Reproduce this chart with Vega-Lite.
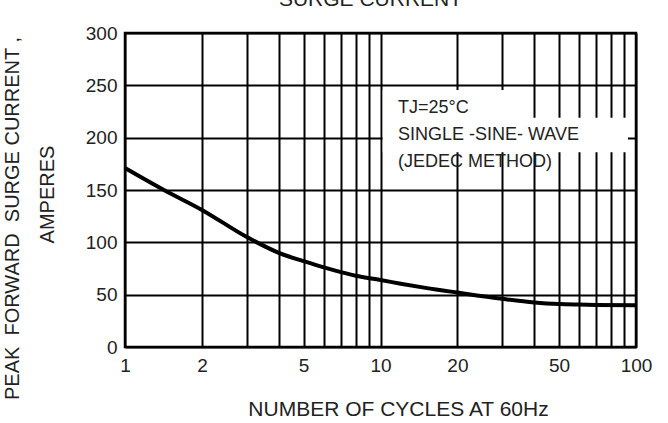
{
  "$schema": "https://vega.github.io/schema/vega-lite/v6.json",
  "width": 511,
  "height": 314,
  "autosize": {"type": "none"},
  "padding": {"left": 125, "top": 33, "right": 32, "bottom": 76},
  "background": "white",
  "title": {
    "text": "SURGE CURRENT",
    "font": "Liberation Sans",
    "fontSize": 21,
    "fontWeight": "normal",
    "color": "#222222",
    "anchor": "middle",
    "frame": "group",
    "baseline": "alphabetic",
    "offset": 6,
    "dx": -10,
    "dy": 9
  },
  "config": {
    "view": {"stroke": "black", "strokeWidth": 2.5},
    "font": "Liberation Sans"
  },
  "resolve": {"scale": {"y": "independent"}, "axis": {"y": "independent"}},
  "datasets": {
    "curve": [
      {"cycles": 1, "amps": 171},
      {"cycles": 1.42, "amps": 150},
      {"cycles": 2, "amps": 131},
      {"cycles": 3, "amps": 105},
      {"cycles": 4, "amps": 90},
      {"cycles": 5, "amps": 82},
      {"cycles": 6, "amps": 76},
      {"cycles": 7, "amps": 71.5},
      {"cycles": 8, "amps": 68},
      {"cycles": 10, "amps": 64},
      {"cycles": 12, "amps": 60.5},
      {"cycles": 15, "amps": 56.5},
      {"cycles": 20, "amps": 52},
      {"cycles": 30, "amps": 46},
      {"cycles": 40, "amps": 42.5},
      {"cycles": 50, "amps": 41},
      {"cycles": 60, "amps": 40.5},
      {"cycles": 70, "amps": 40.2},
      {"cycles": 100, "amps": 40}
    ],
    "notes": [
      {"line": 1, "label": "TJ=25°C", "amps": 228},
      {"line": 2, "label": "SINGLE -SINE- WAVE", "amps": 202.5},
      {"line": 3, "label": "(JEDEC METHOD)", "amps": 177}
    ]
  },
  "layer": [
    {
      "data": {"name": "curve"},
      "mark": {"type": "line", "color": "black", "strokeWidth": 4, "interpolate": "monotone"},
      "encoding": {
        "x": {
          "field": "cycles",
          "type": "quantitative",
          "scale": {"type": "log", "domain": [1, 100], "nice": false},
          "axis": {
            "values": [1, 2, 3, 4, 5, 6, 7, 8, 9, 10, 20, 30, 40, 50, 60, 70, 80, 90, 100],
            "labelExpr": "indexof([1,2,5,10,20,50,100], datum.value) >= 0 ? format(datum.value, 'd') : ''",
            "grid": true,
            "gridColor": "black",
            "gridWidth": 2,
            "gridOpacity": 1,
            "ticks": false,
            "domain": false,
            "labelFontSize": 19,
            "labelColor": "#222222",
            "labelPadding": 9,
            "labelFlush": false,
            "labelOverlap": false,
            "title": "NUMBER OF CYCLES AT 60Hz",
            "titleFontSize": 21,
            "titleFontWeight": "normal",
            "titleColor": "#222222",
            "titleX": 273,
            "titleY": 68,
            "titleBaseline": "alphabetic",
            "titleAlign": "center"
          }
        },
        "y": {
          "field": "amps",
          "type": "quantitative",
          "scale": {"domain": [0, 300], "nice": false},
          "axis": {
            "orient": "left",
            "values": [0, 50, 100, 150, 200, 250, 300],
            "grid": true,
            "gridColor": "black",
            "gridWidth": 2,
            "gridOpacity": 1,
            "ticks": false,
            "domain": false,
            "labelFontSize": 19,
            "labelColor": "#222222",
            "labelPadding": 8,
            "labelFlush": false,
            "title": "PEAK\u00a0 FORWARD\u00a0 SURGE CURRENT ,",
            "titleFontSize": 20,
            "titleFontWeight": "normal",
            "titleColor": "#222222",
            "titleX": -103,
            "titleY": 185,
            "titleAlign": "center",
            "titleBaseline": "bottom",
            "titleAngle": -90
          }
        }
      }
    },
    {
      "data": {"values": [{}]},
      "mark": {"type": "rect", "color": "white", "opacity": 1, "strokeWidth": 0},
      "encoding": {
        "x": {"datum": 10.2, "type": "quantitative"},
        "x2": {"datum": 39},
        "y": {"datum": 186, "type": "quantitative", "scale": {"domain": [0, 300], "nice": false}, "axis": null},
        "y2": {"datum": 245.5}
      }
    },
    {
      "data": {"values": [{}]},
      "mark": {"type": "rect", "color": "white", "opacity": 1, "strokeWidth": 0},
      "encoding": {
        "x": {"datum": 39, "type": "quantitative"},
        "x2": {"datum": 93},
        "y": {"datum": 186, "type": "quantitative", "scale": {"domain": [0, 300], "nice": false}, "axis": null},
        "y2": {"datum": 219}
      }
    },
    {
      "data": {"name": "notes"},
      "mark": {"type": "text", "align": "left", "baseline": "middle", "fontSize": 18, "color": "#222222", "font": "Liberation Sans"},
      "encoding": {
        "x": {"datum": 11.7, "type": "quantitative"},
        "y": {
          "field": "amps",
          "type": "quantitative",
          "scale": {"domain": [0, 300], "nice": false},
          "axis": {
            "orient": "left",
            "labels": false,
            "ticks": false,
            "domain": false,
            "grid": false,
            "title": "AMPERES",
            "titleFontSize": 20,
            "titleFontWeight": "normal",
            "titleColor": "#222222",
            "titleX": -68,
            "titleY": 161,
            "titleAlign": "center",
            "titleBaseline": "bottom",
            "titleAngle": -90
          }
        },
        "text": {"field": "label"}
      }
    }
  ]
}
